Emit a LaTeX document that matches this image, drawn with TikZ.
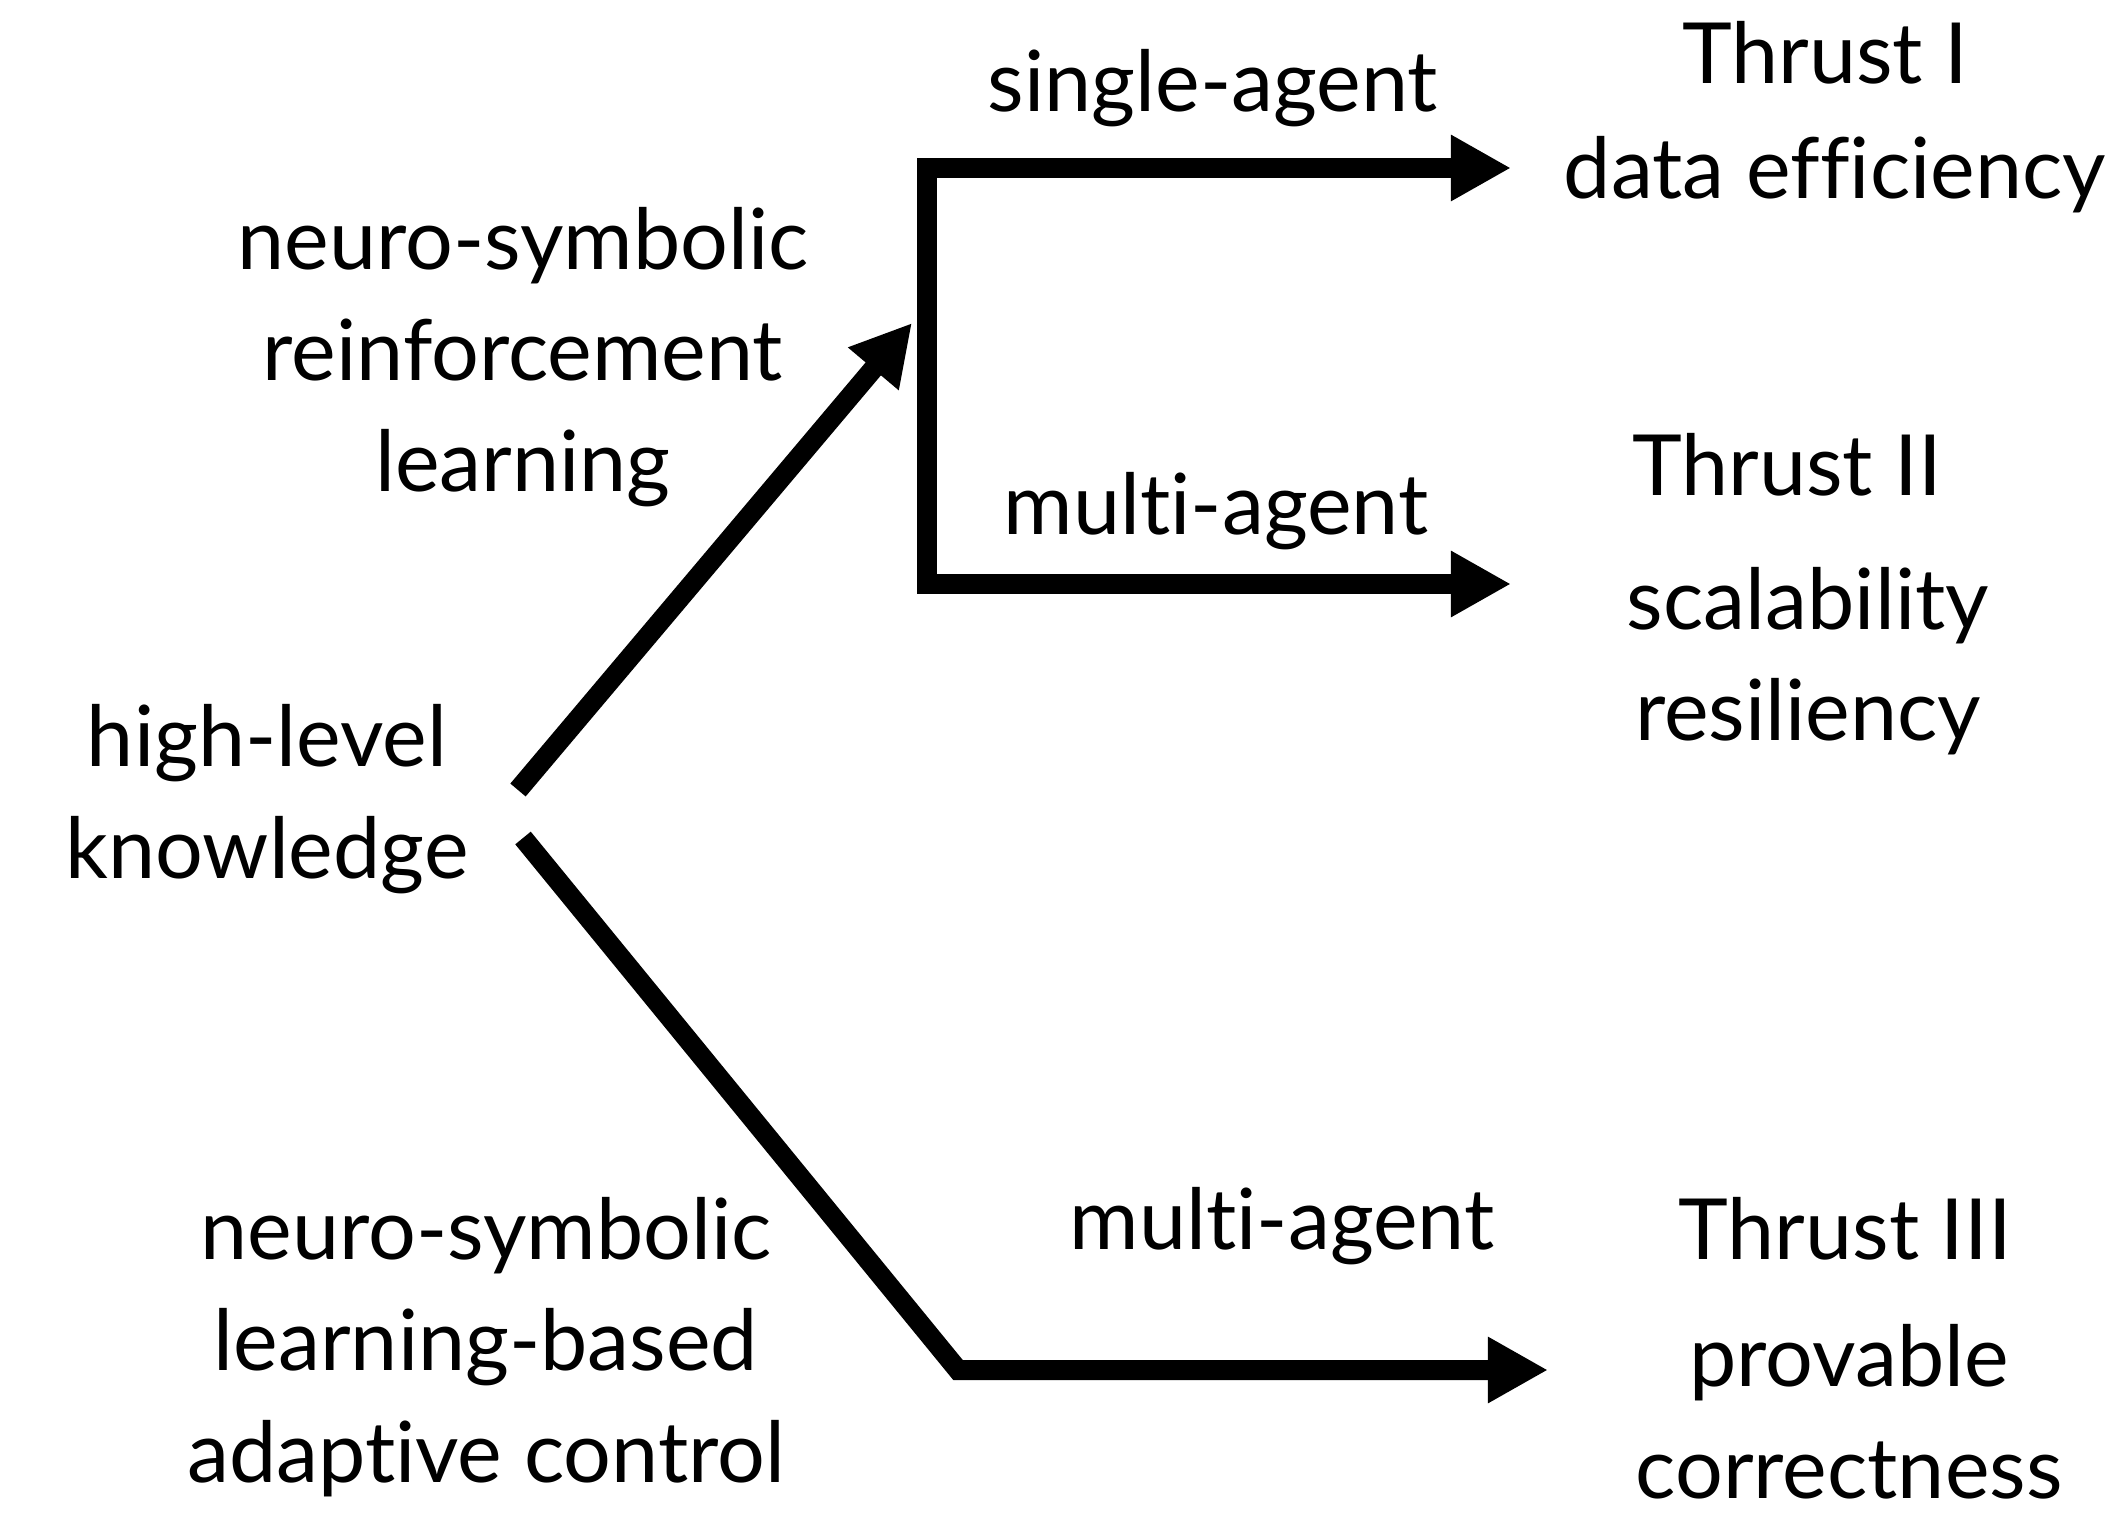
\documentclass[tikz,border=0pt]{standalone}
\usepackage{fontspec}
\setmainfont{Lato}[Ligatures=NoCommon]
\usetikzlibrary{arrows.meta, positioning}

\begin{document}
\begin{tikzpicture}[
  x=0.01cm, y=-0.01cm,
  txt/.style={font=\fontsize{24}{31.6}\selectfont, align=center, anchor=base, inner sep=0pt},
  bar/.style={line width=0.2cm},
  arrow/.style={bar, -{Triangle[length=0.6cm, width=0.62cm]}}
]
  \useasboundingbox (0,0) rectangle (2112,1516);

  % Left side (base = last line)
  \node[txt] (know) at (267,878) {high-level\\knowledge};
  \node[txt] (nsrl) at (523,492) {neuro-symbolic\\reinforcement\\learning};
  \node[txt] (nslc) at (486,1482) {neuro-symbolic\\learning-based\\adaptive control};

  % Branch labels
  \node[txt] (single) at (1213,112) {single-agent};
  \node[txt] (multi1) at (1216,535) {multi-agent};
  \node[txt] (multi2) at (1282,1249) {multi-agent};

  % Thrusts
  \node[txt] (t1) at (1825,84) {Thrust I};
  \node[txt] (t1txt) at (1835,199) {data efficiency};
  \node[txt] (t2) at (1787,496) {Thrust II};
  \node[txt] (t2txt) at (1808,741) {scalability\\resiliency};
  \node[txt] (t3) at (1845,1259) {Thrust III};
  \node[txt] (t3txt) at (1849,1498) {provable\\correctness};

  % Connector ends
  \coordinate (upstart) at (518,790);
  \coordinate (uptip) at (912,323);
  \coordinate (forktop) at (927,168);
  \coordinate (forkbot) at (927,584);
  \coordinate (t1tip) at (1511,168);
  \coordinate (t2tip) at (1511,584);
  \coordinate (lowstart) at (523,838);
  \coordinate (lowbend) at (958,1370);
  \coordinate (t3tip) at (1548,1370);

  \draw[arrow] (upstart) -- (uptip);
  \draw[bar, {Triangle[length=0.6cm, width=0.62cm]}-{Triangle[length=0.6cm, width=0.62cm]}]
    (t1tip) -- (forktop) -- (forkbot) -- (t2tip);
  \draw[arrow] (lowstart) -- (lowbend) -- (t3tip);
\end{tikzpicture}
\end{document}
